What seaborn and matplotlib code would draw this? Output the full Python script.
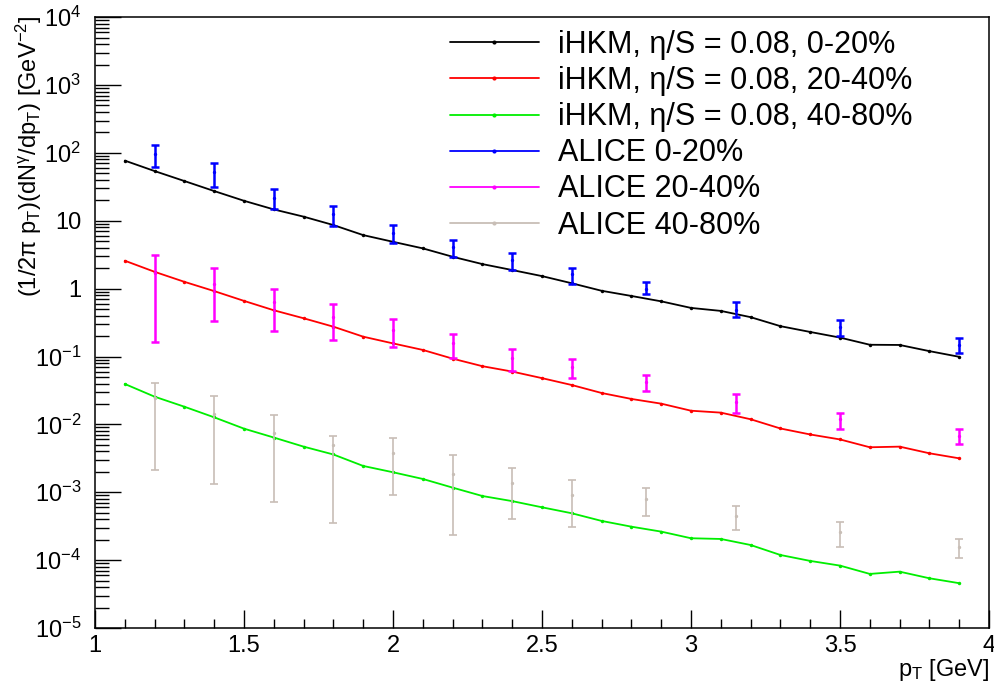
import numpy as np
import pandas as pd
import matplotlib
matplotlib.use('Agg')
import matplotlib.pyplot as plt
from matplotlib.lines import Line2D
from matplotlib.ticker import FixedLocator, MultipleLocator, LogLocator, FixedFormatter, NullFormatter
import seaborn as sns

# model pT grid and iHKM spectra
pt_model = [1.1, 1.2, 1.3, 1.4, 1.5, 1.6, 1.7, 1.8, 1.9, 2.0, 2.1, 2.2, 2.3, 2.4, 2.5,
            2.6, 2.7, 2.8, 2.9, 3.0, 3.1, 3.2, 3.3, 3.4, 3.5, 3.6, 3.7, 3.8, 3.9]
ihkm_0_20 = [77, 54, 38.5, 27.4, 19.7, 14.7, 11.5, 8.65, 6.15, 4.9, 3.92, 2.95, 2.3, 1.88, 1.53,
             1.2, 0.93, 0.78, 0.65, 0.52, 0.47, 0.38, 0.28, 0.23, 0.19, 0.149, 0.148, 0.12, 0.099]
ihkm_20_40 = [2.58, 1.77, 1.26, 0.92, 0.66, 0.48, 0.366, 0.275, 0.196, 0.156, 0.125, 0.093, 0.072,
              0.060, 0.048, 0.038, 0.029, 0.0237, 0.0202, 0.0159, 0.0149, 0.0119, 0.0087, 0.0071,
              0.0060, 0.0046, 0.0047, 0.00375, 0.00316]
ihkm_40_80 = [0.0394, 0.0256, 0.0182, 0.0127, 0.00865, 0.0064, 0.0047, 0.0036, 0.00244, 0.00197,
              0.00157, 0.00117, 0.00088, 0.00074, 0.0006, 0.00049, 0.000378, 0.000311, 0.000263,
              0.00021, 0.000205, 0.000167, 0.000119, 0.0000973, 0.000083, 0.0000626, 0.0000676,
              0.000054, 0.0000457]

# ALICE data points (value, upper and lower edge of error bar)
pt_alice = [1.2, 1.4, 1.6, 1.8, 2.0, 2.2, 2.4, 2.6, 2.85, 3.15, 3.5, 3.9]
alice_0_20 = [96, 52, 22, 12.6, 6.66, 4.14, 2.64, 1.64, 1.0, 0.48, 0.27, 0.148]
alice_0_20_hi = [132, 72, 29, 16.5, 8.8, 5.2, 3.34, 2.03, 1.24, 0.63, 0.345, 0.185]
alice_0_20_lo = [62, 31.6, 14.7, 8.4, 4.65, 2.95, 1.88, 1.17, 0.83, 0.385, 0.2, 0.114]
alice_20_40 = [1.72, 1.16, 0.63, 0.385, 0.245, 0.156, 0.096, 0.071, 0.0426, 0.0216, 0.0119, 0.0067]
alice_20_40_hi = [3.13, 1.99, 1.0, 0.59, 0.356, 0.212, 0.13, 0.092, 0.053, 0.0277, 0.0149, 0.0086]
alice_20_40_lo = [0.162, 0.336, 0.238, 0.175, 0.139, 0.096, 0.062, 0.049, 0.031, 0.0149, 0.0085, 0.0051]
alice_40_80 = [0.0242, 0.0141, 0.0074, 0.00498, 0.00375, 0.00186, 0.00136, 0.00091, 0.0008,
               0.000452, 0.000258, 0.000158]
alice_40_80_hi = [0.041, 0.0265, 0.0137, 0.0068, 0.0064, 0.00355, 0.0023, 0.00152, 0.00115,
                  0.000635, 0.000363, 0.000205]
alice_40_80_lo = [0.00213, 0.00132, 0.00073, 0.000357, 0.00091, 0.000234, 0.000405, 0.000305,
                  0.000448, 0.000279, 0.000158, 0.000107]

model_labels = ['iHKM, η/S = 0.08, 0-20%', 'iHKM, η/S = 0.08, 20-40%', 'iHKM, η/S = 0.08, 40-80%']
alice_labels = ['ALICE 0-20%', 'ALICE 20-40%', 'ALICE 40-80%']
model_colors = ['#000000', '#ff0000', '#00ee00']
alice_colors = ['#0000ff', '#ff00ff', '#c8beb6']

x_ticks = [1, 1.5, 2, 2.5, 3, 3.5, 4]
x_ticklabels = ['1', '1.5', '2', '2.5', '3', '3.5', '4']
y_ticks = [1e-5, 1e-4, 1e-3, 1e-2, 1e-1, 1, 10, 1e2, 1e3, 1e4]
y_ticklabels = [r'$10^{-5}$', r'$10^{-4}$', r'$10^{-3}$', r'$10^{-2}$', r'$10^{-1}$',
                '1', '10', r'$10^{2}$', r'$10^{3}$', r'$10^{4}$']

sns.set_style('white')
plt.rcParams['font.family'] = ['Liberation Sans', 'DejaVu Sans']
plt.rcParams['mathtext.fontset'] = 'custom'
plt.rcParams['mathtext.rm'] = 'Liberation Sans'
plt.rcParams['mathtext.it'] = 'Liberation Sans'
plt.rcParams['mathtext.default'] = 'regular'
for k in ['text.color', 'axes.labelcolor', 'xtick.color', 'ytick.color']:
    plt.rcParams[k] = 'black'

df_model = pd.DataFrame({
    'pt': pt_model * 3,
    'value': ihkm_0_20 + ihkm_20_40 + ihkm_40_80,
    'series': [model_labels[0]] * len(pt_model) + [model_labels[1]] * len(pt_model)
              + [model_labels[2]] * len(pt_model),
})

fig = plt.figure(figsize=(9.94, 6.87), dpi=100)
ax = fig.add_subplot(111)
fig.subplots_adjust(left=0.0956, right=0.995, top=0.975, bottom=0.0859)

sns.lineplot(data=df_model, x='pt', y='value', hue='series', palette=dict(zip(model_labels, model_colors)),
             estimator=None, marker='o', markersize=2.5, markeredgewidth=0, lw=1.3, legend=False, ax=ax)

alice = [(alice_0_20, alice_0_20_lo, alice_0_20_hi, 1.8),
         (alice_20_40, alice_20_40_lo, alice_20_40_hi, 1.8),
         (alice_40_80, alice_40_80_lo, alice_40_80_hi, 1.2)]
for (val, lo, hi, lw), c in zip(alice, alice_colors):
    val = np.array(val)
    yerr = [val - np.array(lo), np.array(hi) - val]
    ax.errorbar(pt_alice, val, yerr=yerr, fmt='o', ms=1.4, color=c,
                elinewidth=lw, capsize=2.6, capthick=lw)

ax.set_yscale('log')
ax.set_xlim(1, 4)
ax.set_ylim(1e-5, 1e4)

ax.xaxis.set_major_locator(FixedLocator(x_ticks))
ax.xaxis.set_major_formatter(FixedFormatter(x_ticklabels))
ax.xaxis.set_minor_locator(MultipleLocator(0.1))
ax.yaxis.set_major_locator(FixedLocator(y_ticks))
ax.yaxis.set_major_formatter(FixedFormatter(y_ticklabels))
ax.yaxis.set_minor_locator(LogLocator(base=10, subs=np.arange(2, 10), numticks=100))
ax.yaxis.set_minor_formatter(NullFormatter())

ax.tick_params(which='both', direction='in', bottom=True, left=True, top=False, right=False,
               color='black', width=1)
ax.tick_params(axis='y', which='major', length=19, pad=10, labelsize=17)
ax.tick_params(axis='y', which='minor', length=10)
ax.tick_params(axis='x', which='major', length=13, pad=5, labelsize=17)
ax.tick_params(axis='x', which='minor', length=6.5)
for s in ax.spines.values():
    s.set_color('black')
    s.set_linewidth(1.1)

ax.set_xlabel(r'p$_{T}$ [GeV]', fontsize=17, loc='right')
ax.xaxis.set_label_coords(1.0, -0.048)
ax.set_ylabel(r'(1/2$\pi$ p$_{T}$)(dN$^{\gamma}$/dp$_{T}$) [GeV$^{-2}$]', fontsize=17, loc='top')
ax.yaxis.set_label_coords(-0.057, 1.003)

handles = [Line2D([], [], color=c, lw=1.3, marker='o', ms=3, mew=0) for c in model_colors + alice_colors]
ax.legend(handles, model_labels + alice_labels, loc='upper left', bbox_to_anchor=(0.397, 0.979),
          frameon=False, fontsize=22, handlelength=2.9, handletextpad=0.62, labelspacing=0.2,
          borderpad=0, borderaxespad=0, numpoints=1)

plt.savefig('out.png', dpi=100)
